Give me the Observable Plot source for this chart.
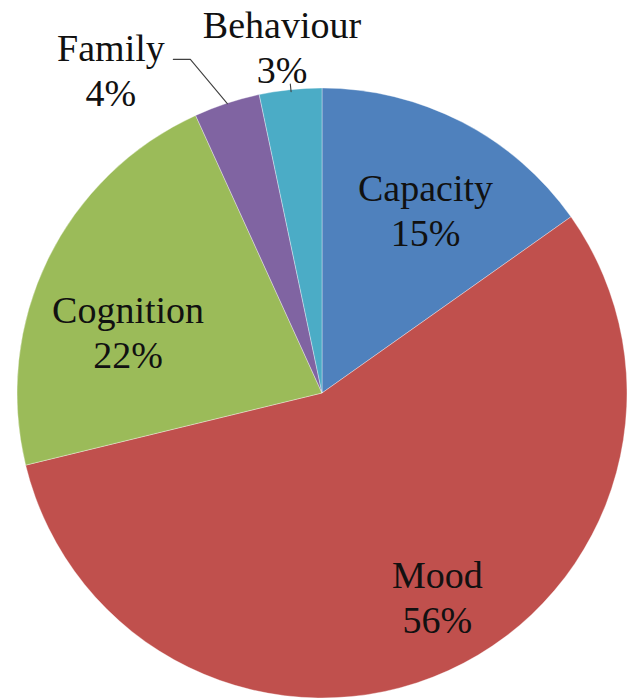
<!DOCTYPE html>
<html>
<head>
<meta charset="utf-8">
<script src="https://cdn.jsdelivr.net/npm/d3@7"></script>
<script src="https://cdn.jsdelivr.net/npm/@observablehq/plot@0.6"></script>
<style>
  html, body { margin: 0; padding: 0; background: #ffffff; }
  #chart svg { display: block; }
  #chart svg text { font-family: "Liberation Serif", "Times New Roman", serif !important; }
</style>
</head>
<body>
<div id="chart"></div>
<script>
// ---- data ----
const categories = ["Capacity", "Mood", "Cognition", "Family", "Behaviour"];
const shares = [15.2, 56.0, 22.0, 3.5, 3.3];
const shareLabels = ["15%", "56%", "22%", "4%", "3%"];
const sliceColors = ["#4F81BD", "#C0504D", "#9BBB59", "#8064A2", "#4BACC6"];

// ---- layout (pixels) ----
const W = 633, H = 698;
const CX = 322, CY = 393, R = 305;
// label placement relative to each slice: radius factor and angular nudge (deg)
const labelRadius = [0.693, 0.763, 0.670, 1.271, 1.148];
const labelNudge = [1.8, -5.1, -8.0, -14.9, -0.7];

const rows = categories.map((c, i) => ({category: c, share: shares[i], pct: shareLabels[i]}));
const arcs = d3.pie().sort(null).value(d => d.share)(rows);

const polar = (k, a) => ({x: k * Math.sin(a), y: k * Math.cos(a)});
const deg = Math.PI / 180;

const labels = arcs.map((a, i) => {
  const mid = (a.startAngle + a.endAngle) / 2 + labelNudge[i] * deg;
  const p = polar(labelRadius[i], mid);
  return {category: a.data.category, text: `${a.data.category}\n${a.data.pct}`, x: p.x, y: p.y};
});

// leader lines for the two small outside-labelled slices
const leaders = [];
{
  const fam = arcs[3], mid = (fam.startAngle + fam.endAngle) / 2;
  const p0 = polar(1.0, mid), p1 = polar(1.178, mid - 3.4 * deg);
  leaders.push({category: "Family", x: p0.x, y: p0.y});
  leaders.push({category: "Family", x: p1.x, y: p1.y});
  leaders.push({category: "Family", x: p1.x - 17 / R, y: p1.y});
  const beh = arcs[4], midb = (beh.startAngle + beh.endAngle) / 2;
  const q0 = polar(0.995, midb), q1 = polar(1.02, midb);
  leaders.push({category: "Behaviour", x: q0.x, y: q0.y});
  leaders.push({category: "Behaviour", x: q1.x, y: q1.y});
}

const color = Plot.scale({color: {domain: categories, range: sliceColors}});

// custom mark: pie slices drawn with d3.arc through Plot's x/y scales
const pieSlices = (index, scales) => {
  const x0 = scales.x(0), y0 = scales.y(0);
  const rad = scales.x(1) - x0;
  const arc = d3.arc().innerRadius(0).outerRadius(rad);
  const g = d3.create("svg:g").attr("transform", `translate(${x0},${y0})`);
  g.selectAll("path")
    .data(arcs)
    .join("path")
    .attr("d", arc)
    .attr("fill", d => color.apply(d.data.category))
    .attr("stroke", "#ffffff")
    .attr("stroke-opacity", 0.5)
    .attr("stroke-width", 0.7);
  return g.node();
};

const chart = Plot.plot({
  width: W,
  height: H,
  margin: 0,
  x: {domain: [-CX / R, (W - CX) / R], axis: null},
  y: {domain: [-(H - CY) / R, CY / R], axis: null},
  marks: [
    pieSlices,
    Plot.line(leaders, {x: "x", y: "y", z: "category", stroke: "#404040", strokeWidth: 1.1}),
    Plot.text(labels, {
      x: "x", y: "y", text: "text",
      fontSize: 38,
      fontFamily: "Liberation Serif",
      lineHeight: 45 / 38,
      fill: "#111111",
      textAnchor: "middle"
    })
  ]
});

document.getElementById("chart").append(chart);
</script>
</body>
</html>
